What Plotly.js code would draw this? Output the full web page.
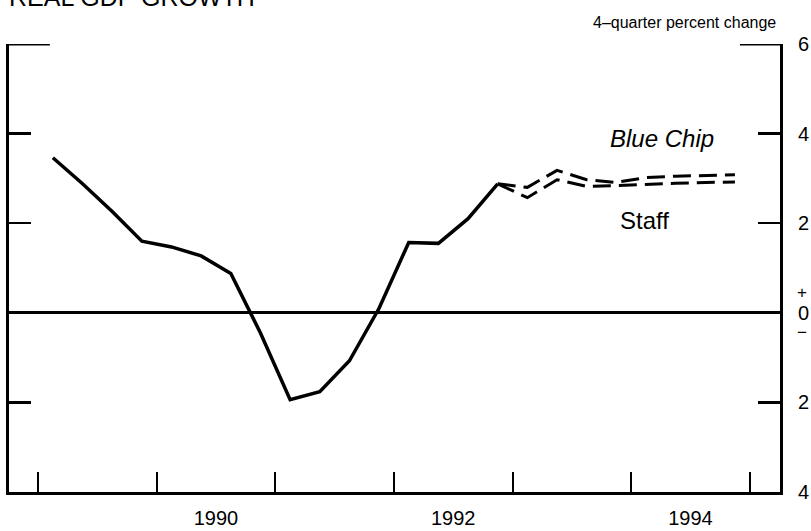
<!DOCTYPE html>
<html>
<head>
<meta charset="utf-8">
<script src="https://cdn.plot.ly/plotly-3.0.1.min.js"></script>
<style>html,body{margin:0;padding:0;background:#fff;}#chart{width:811px;height:531px;}</style>
</head>
<body>
<div id="chart"></div>
<script>
// ---- data ----
var actualQuarters = ['1989Q1','1989Q2','1989Q3','1989Q4','1990Q1','1990Q2','1990Q3','1990Q4',
                      '1991Q1','1991Q2','1991Q3','1991Q4','1992Q1','1992Q2','1992Q3','1992Q4'];
var actualGrowth = [3.46, 2.88, 2.26, 1.60, 1.47, 1.27, 0.88, -0.45,
                    -1.94, -1.76, -1.07, 0.10, 1.57, 1.55, 2.10, 2.88];
var forecastQuarters = ['1992Q4','1993Q1','1993Q2','1993Q3','1993Q4','1994Q1','1994Q2','1994Q3','1994Q4'];
var blueChip = [2.88, 2.80, 3.18, 2.97, 2.91, 3.02, 3.05, 3.07, 3.08];
var staff    = [2.88, 2.57, 2.97, 2.82, 2.84, 2.87, 2.89, 2.91, 2.92];
var yearTicks = [1989, 1990, 1991, 1992, 1993, 1994, 1995];
var yearLabels = ['1990', '1992', '1994'];
var yTickVals = [-4, -2, 0, 2, 4, 6];
var yTickText = ['4', '2', '0', '2', '4', '6'];

function qToX(q) {
  var yr = parseInt(q.slice(0, 4), 10), n = parseInt(q.slice(5), 10);
  return yr + (n - 0.5) / 4;
}

var FONT = 'Liberation Sans, Arial, Helvetica, sans-serif';

var traces = [
  {x: actualQuarters.map(qToX), y: actualGrowth, mode: 'lines', type: 'scatter',
   line: {color: '#000', width: 3.5}, hoverinfo: 'skip'},
  {x: forecastQuarters.map(qToX), y: blueChip, mode: 'lines', type: 'scatter',
   line: {color: '#000', width: 3, dash: '18px,8px'}, hoverinfo: 'skip'},
  {x: forecastQuarters.map(qToX), y: staff, mode: 'lines', type: 'scatter',
   line: {color: '#000', width: 3, dash: '18px,8px'}, hoverinfo: 'skip'}
];

var layout = {
  width: 811, height: 531,
  margin: {l: 9, r: 31, t: 44, b: 39},
  paper_bgcolor: '#fff', plot_bgcolor: '#fff',
  showlegend: false,
  font: {family: FONT, size: 20, color: '#000'},
  xaxis: {
    range: [1988.755, 1995.255],
    showgrid: false, zeroline: false,
    showline: true, linecolor: '#000', linewidth: 3,
    tickvals: yearLabels.map(function (s) { return parseInt(s, 10) + 0.5; }),
    ticktext: yearLabels,
    ticks: '', ticklabelstandoff: 6,
    tickfont: {family: FONT, size: 20, color: '#000'},
    minor: {tickvals: yearTicks, ticks: 'inside', ticklen: 20, tickwidth: 2, tickcolor: '#000', showgrid: false}
  },
  yaxis: {
    range: [-4, 6],
    side: 'right',
    showgrid: false,
    zeroline: true, zerolinecolor: '#000', zerolinewidth: 3,
    showline: true, linecolor: '#000', linewidth: 3, mirror: 'ticks',
    tickvals: yTickVals, ticktext: yTickText,
    ticks: 'inside', ticklen: 22, tickwidth: 2.5, tickcolor: '#000',
    ticklabelstandoff: 11,
    tickfont: {family: FONT, size: 20, color: '#000'}
  },
  shapes: [
    {type: 'line', xref: 'paper', yref: 'y', x0: 0, x1: 0.053, y0: 6, y1: 6, line: {color: '#000', width: 3}},
    {type: 'line', xref: 'paper', yref: 'y', x0: 0.948, x1: 1, y0: 6, y1: 6, line: {color: '#000', width: 3}}
  ],
  annotations: [
    {text: 'REAL GDP GROWTH', xref: 'paper', yref: 'paper', x: -0.003, y: 1.106,
     xanchor: 'left', yanchor: 'middle', showarrow: false, font: {family: FONT, size: 25, color: '#000'}},
    {text: '4\u2013quarter percent change', xref: 'paper', yref: 'paper', x: 0.998, y: 1.049,
     xanchor: 'right', yanchor: 'middle', showarrow: false, font: {family: FONT, size: 16, color: '#000'}},
    {text: '<i>Blue Chip</i>', xref: 'x', yref: 'y', x: 1994.26, y: 3.9,
     xanchor: 'center', yanchor: 'middle', showarrow: false, font: {family: FONT, size: 24, color: '#000'}},
    {text: 'Staff', xref: 'x', yref: 'y', x: 1994.11, y: 2.05,
     xanchor: 'center', yanchor: 'middle', showarrow: false, font: {family: FONT, size: 24, color: '#000'}},
    {text: '+', xref: 'paper', yref: 'y', x: 1.0285, y: 0.46,
     xanchor: 'center', yanchor: 'middle', showarrow: false, font: {family: FONT, size: 17, color: '#000'}},
    {text: '\u2212', xref: 'paper', yref: 'y', x: 1.0285, y: -0.44,
     xanchor: 'center', yanchor: 'middle', showarrow: false, font: {family: FONT, size: 17, color: '#000'}}
  ]
};

Plotly.newPlot('chart', traces, layout, {displayModeBar: false, staticPlot: true});
</script>
</body>
</html>
